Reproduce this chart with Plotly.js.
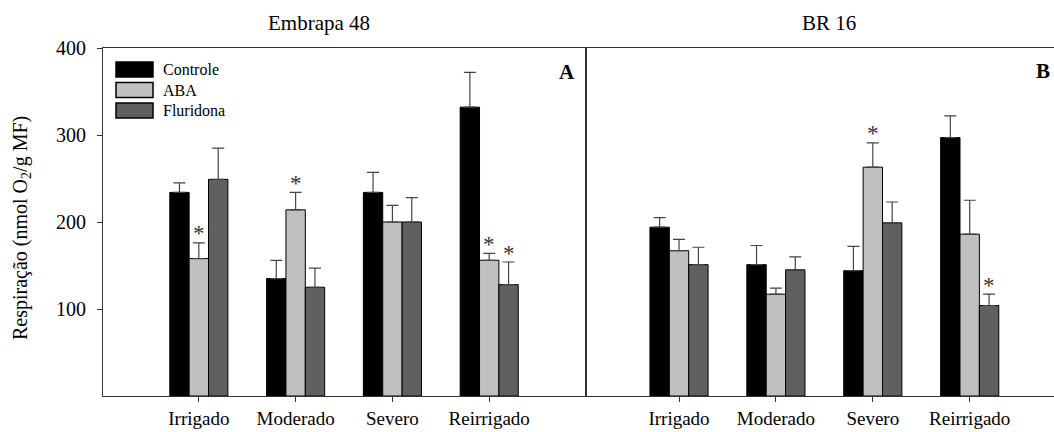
<!DOCTYPE html>
<html>
<head>
<meta charset="utf-8">
<script src="https://cdn.plot.ly/plotly-3.0.1.min.js"></script>
<style>html,body{margin:0;padding:0;background:#fff;}#chart{width:1054px;height:432px;}</style>
</head>
<body>
<div id="chart"></div>
<script>
// ---- data ----
const categories = ['Irrigado', 'Moderado', 'Severo', 'Reirrigado'];
const seriesNames = ['Controle', 'ABA', 'Fluridona'];
const panelTitles = ['Embrapa 48', 'BR 16'];
const panelLetters = ['A', 'B'];
const yTickVals = [100, 200, 300, 400];

const embrapaControle = [234, 135, 234, 332];
const embrapaControleErr = [11, 21, 23, 40];
const embrapaABA = [158, 214, 200, 156];
const embrapaABAErr = [18, 20, 19, 8];
const embrapaFluridona = [249, 125, 200, 128];
const embrapaFluridonaErr = [36, 22, 28, 26];

const br16Controle = [194, 151, 144, 297];
const br16ControleErr = [11, 22, 28, 25];
const br16ABA = [167, 117, 263, 186];
const br16ABAErr = [13, 7, 28, 39];
const br16Fluridona = [151, 145, 199, 104];
const br16FluridonaErr = [20, 15, 24, 13];

// significance flags (asterisks)
const embrapaSigControle = [0, 0, 0, 0];
const embrapaSigABA = [1, 1, 0, 1];
const embrapaSigFluridona = [0, 0, 0, 1];
const br16SigControle = [0, 0, 0, 0];
const br16SigABA = [0, 0, 1, 0];
const br16SigFluridona = [0, 0, 0, 1];

// ---- style ----
const FONT = "'Liberation Serif', 'Times New Roman', serif";
const colors = ['#000000', '#c0c0c0', '#606060'];
const W = 1054, H = 432;
const M = {l: 103, r: 0, t: 48, b: 36};
const plotW = W - M.l - M.r, plotH = H - M.t - M.b;
const splitPx = 586;
const splitFrac = (splitPx - M.l) / plotW;
const px2x = p => (p - M.l) / plotW;
const px2y = p => (H - M.b - p) / plotH;

const panels = [
  {xa: 'x', ya: 'y', vals: [embrapaControle, embrapaABA, embrapaFluridona],
   errs: [embrapaControleErr, embrapaABAErr, embrapaFluridonaErr],
   sig: [embrapaSigControle, embrapaSigABA, embrapaSigFluridona]},
  {xa: 'x2', ya: 'y2', vals: [br16Controle, br16ABA, br16Fluridona],
   errs: [br16ControleErr, br16ABAErr, br16FluridonaErr],
   sig: [br16SigControle, br16SigABA, br16SigFluridona]}
];

const xIdx = categories.map((c, i) => i);
const traces = [];
const annotations = [];
panels.forEach((p, pi) => {
  seriesNames.forEach((name, s) => {
    traces.push({
      type: 'bar', name: name, x: xIdx, y: p.vals[s],
      xaxis: p.xa, yaxis: p.ya, offsetgroup: String(s), showlegend: false,
      marker: {color: colors[s], line: {color: '#000', width: 1}},
      error_y: {type: 'data', symmetric: false, array: p.errs[s],
                arrayminus: p.errs[s].map(() => 0), color: '#444', thickness: 1.2, width: 6},
      hoverinfo: 'skip'
    });
    p.sig[s].forEach((f, i) => {
      if (f) {
        annotations.push({
          xref: p.xa, yref: p.ya, x: i + (s - 1) * 0.2, y: p.vals[s][i] + p.errs[s][i],
          text: '*', showarrow: false, xanchor: 'center', yanchor: 'middle', yshift: 9,
          font: {family: FONT, size: 23, color: '#333'}
        });
      }
    });
  });
});

// panel titles & letters
annotations.push({xref: 'paper', yref: 'paper', x: px2x(319), y: px2y(23), text: panelTitles[0],
  showarrow: false, xanchor: 'center', yanchor: 'middle', font: {family: FONT, size: 21, color: '#000'}});
annotations.push({xref: 'paper', yref: 'paper', x: px2x(829), y: px2y(23), text: panelTitles[1],
  showarrow: false, xanchor: 'center', yanchor: 'middle', font: {family: FONT, size: 21, color: '#000'}});
annotations.push({xref: 'paper', yref: 'paper', x: px2x(567), y: px2y(72), text: '<b>' + panelLetters[0] + '</b>',
  showarrow: false, xanchor: 'center', yanchor: 'middle', font: {family: FONT, size: 21, color: '#000'}});
annotations.push({xref: 'paper', yref: 'paper', x: px2x(1043), y: px2y(71), text: '<b>' + panelLetters[1] + '</b>',
  showarrow: false, xanchor: 'center', yanchor: 'middle', font: {family: FONT, size: 21, color: '#000'}});
// y axis title
annotations.push({xref: 'paper', yref: 'paper', x: px2x(22), y: px2y(228),
  text: 'Respiração (nmol O<sub>2</sub>/g MF)', textangle: -90, showarrow: false,
  xanchor: 'center', yanchor: 'middle', font: {family: FONT, size: 20, color: '#000'}});

// legend (drawn manually)
const shapes = [];
seriesNames.forEach((name, s) => {
  const cy = 69.5 + s * 20.5;
  shapes.push({type: 'rect', xref: 'paper', yref: 'paper',
    x0: px2x(116), x1: px2x(153), y0: px2y(cy - 7.5), y1: px2y(cy + 7.5),
    fillcolor: colors[s], line: {color: '#000', width: 1.5}});
  annotations.push({xref: 'paper', yref: 'paper', x: px2x(161), y: px2y(cy), text: name,
    showarrow: false, xanchor: 'left', yanchor: 'middle', font: {family: FONT, size: 16, color: '#000'}});
});

const xCommon = {
  type: 'linear', tickvals: xIdx, ticktext: categories, ticks: 'outside', ticklen: 5,
  tickcolor: '#333', tickwidth: 1, showline: true, linecolor: '#333', linewidth: 1,
  mirror: true, showgrid: false, zeroline: false, fixedrange: true,
  tickfont: {family: FONT, size: 19, color: '#000'}
};
const layout = {
  width: W, height: H, margin: M, paper_bgcolor: '#fff', plot_bgcolor: '#fff',
  barmode: 'group', bargap: 0.4, bargroupgap: 0, showlegend: false,
  font: {family: FONT, color: '#000'},
  xaxis: Object.assign({}, xCommon, {domain: [0, splitFrac], range: [-0.99, 4.0], anchor: 'y'}),
  xaxis2: Object.assign({}, xCommon, {domain: [splitFrac, 1], range: [-0.96, 3.87], anchor: 'y2'}),
  yaxis: {range: [0, 400], tickvals: yTickVals, ticks: 'outside', ticklen: 5, tickcolor: '#333',
    showline: true, linecolor: '#333', linewidth: 1, mirror: true, showgrid: false, zeroline: false,
    tickfont: {family: FONT, size: 20, color: '#000'}, anchor: 'x', ticklabelstandoff: 7},
  yaxis2: {range: [0, 400], showticklabels: false, ticks: '', showline: true, linecolor: '#333',
    linewidth: 1, mirror: false, showgrid: false, zeroline: false, anchor: 'x2'},
  annotations: annotations, shapes: shapes
};
Plotly.newPlot('chart', traces, layout, {displayModeBar: false, staticPlot: true});
</script>
</body>
</html>
